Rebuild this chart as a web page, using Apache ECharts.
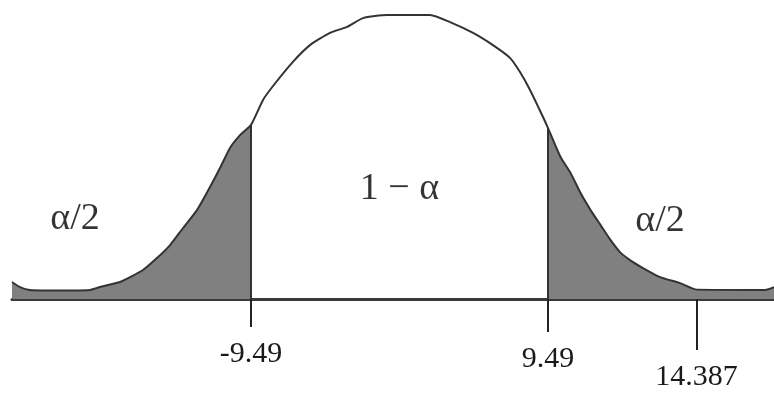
<!DOCTYPE html>
<html>
<head>
<meta charset="utf-8">
<script src="https://cdn.jsdelivr.net/npm/echarts@6/dist/echarts.min.js"></script>
<style>
html,body{margin:0;padding:0;background:#fff;}
#c{width:774px;height:393px;}
</style>
</head>
<body>
<div id="c"></div>
<script>
// Density curve (diagram units)
const curveX = [-24.76,-24.25,-23.61,-21.69,-19.78,-19.14,-17.86,-17.22,-16.39,-15.50,-14.66,-13.83,-12.94,-12.11,-11.47,-10.83,-10.19,-9.49,-8.72,-8.08,-6.81,-5.72,-4.44,-3.35,-2.33,-0.80,1.95,3.23,4.70,5.97,7.06,7.70,8.34,9.17,9.49,10.29,10.93,11.57,12.21,12.84,13.48,14.09,14.73,15.56,16.65,17.93,19.01,23.36,23.93];
const curveY = [6.0,4.2,3.2,3.0,3.2,4.2,6.0,7.7,10.2,14.4,19.0,25.0,31.3,39.4,46.1,53.2,57.7,61.3,70.1,75.0,83.5,89.4,93.7,95.8,98.9,100,100,97.5,93.7,89.4,84.9,79.9,73.6,64.1,60.2,50.0,44.4,37.3,31.3,26.1,20.8,16.5,13.7,10.9,7.7,5.6,3.3,3.2,4.2];
const criticalValues = [-9.49, 9.49];
const tickValues = [-9.49, 9.49, 18.98];
const tickLabels = ['-9.49', '9.49', '14.387'];
const regionLabels = ['α/2', '1 − α', 'α/2'];

const FONT = '"Liberation Serif", "Times New Roman", serif';
const curve = curveX.map((x, i) => [x, curveY[i]]);
const leftTail = curve.filter(p => p[0] <= criticalValues[0]);
const rightTail = curve.filter(p => p[0] >= criticalValues[1]);
const yAt = x => curve.find(p => p[0] === x)[1];

const tickDepth = [9.9, 11.6, 18.0];
const regionPos = [[-20.73, 28.2], [0, 38.7], [16.65, 27.5]];
const SMOOTH = 0.2;

const chart = echarts.init(document.getElementById('c'), null, {renderer: 'canvas'});
chart.setOption({
  animation: false,
  grid: {left: 12, right: 0, top: 15, bottom: 0},
  xAxis: {
    type: 'value', min: -24.76, max: 23.93,
    axisLine: {show: true, onZero: true, lineStyle: {color: '#3a3a3a', width: 3}},
    axisTick: {show: false}, axisLabel: {show: false}, splitLine: {show: false}
  },
  yAxis: {
    type: 'value', min: -33.1, max: 100, show: false,
    splitLine: {show: false}
  },
  series: [
    {
      type: 'line', data: leftTail, smooth: SMOOTH, symbol: 'none',
      lineStyle: {width: 0}, areaStyle: {color: '#808080', opacity: 1}, z: 1
    },
    {
      type: 'line', data: rightTail, smooth: SMOOTH, symbol: 'none',
      lineStyle: {width: 0}, areaStyle: {color: '#808080', opacity: 1}, z: 1
    },
    {
      type: 'line', data: curve, smooth: SMOOTH, symbol: 'none',
      lineStyle: {color: '#333', width: 2}, z: 3,
      markLine: {
        silent: true, symbol: 'none', animation: false,
        data: [
          ...criticalValues.map(v => [
            {coord: [v, 0], lineStyle: {color: '#333', width: 2, type: 'solid'}, label: {show: false}},
            {coord: [v, yAt(v)]}
          ]),
          ...tickValues.map((v, i) => [
            {coord: [v, 0], lineStyle: {color: '#222', width: 2, type: 'solid'},
             label: {show: true, position: 'end', distance: 12, formatter: tickLabels[i],
                     fontFamily: FONT, fontSize: 30, color: '#1a1a1a'}},
            {coord: [v, -tickDepth[i]]}
          ])
        ]
      }
    },
    {
      type: 'scatter', symbolSize: 0, z: 4, silent: true,
      data: regionPos.map((p, i) => ({value: p, name: regionLabels[i]})),
      label: {
        show: true, position: 'inside', formatter: p => p.name,
        fontFamily: FONT, fontSize: 38, color: '#000', textBorderWidth: 0
      }
    }
  ]
});
</script>
</body>
</html>
